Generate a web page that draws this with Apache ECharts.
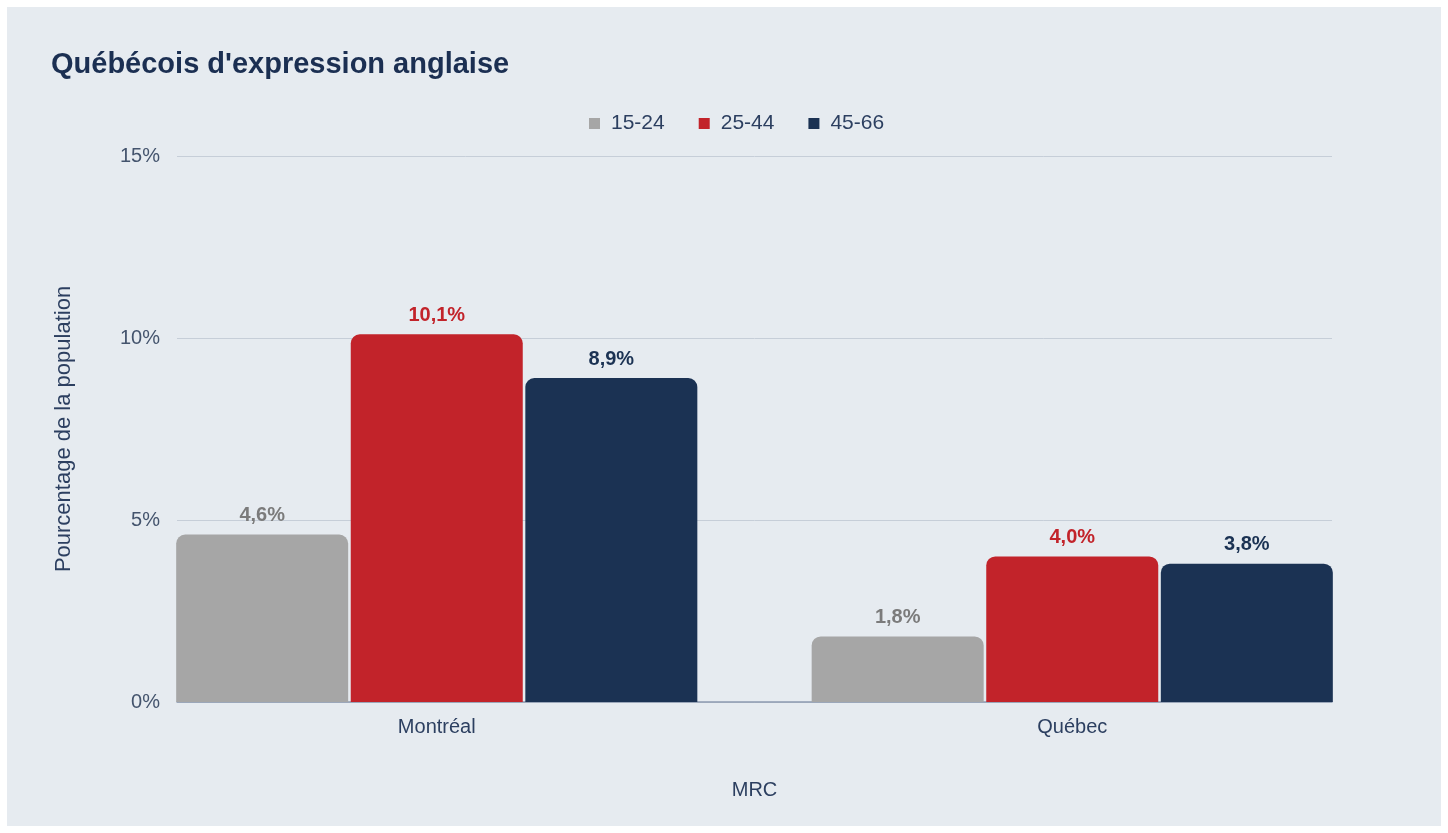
<!DOCTYPE html>
<html>
<head>
<meta charset="utf-8">
<script src="https://cdn.jsdelivr.net/npm/echarts@6/dist/echarts.min.js"></script>
<style>
html,body{margin:0;padding:0;background:#ffffff;}
#wrap{width:1448px;height:833px;box-sizing:border-box;padding:7px;background:#ffffff;}
#chart{width:1434px;height:819px;background:#e6ebf0;}
</style>
</head>
<body>
<div id="wrap"><div id="chart"></div></div>
<script>
const categories = ['Montréal', 'Québec'];
const seriesNames = ['15-24', '25-44', '45-66'];
const values1524 = [4.6, 1.8];
const values2544 = [10.1, 4.0];
const values4566 = [8.9, 3.8];
const yTicks = [0, 5, 10, 15];

const colors = ['#a6a6a6', '#c2232a', '#1b3253'];
const labelColors = ['#7b7b7b', '#c2232a', '#1b3253'];
const font = '"Liberation Sans", Arial, Helvetica, sans-serif';
const allValues = [values1524, values2544, values4566];

const chart = echarts.init(document.getElementById('chart'));
const option = {
  animation: false,
  textStyle: { fontFamily: font },
  title: {
    text: "Québécois d'expression anglaise",
    left: 39, top: 38,
    textStyle: { fontFamily: font, fontSize: 29, fontWeight: 'bold', color: '#1b2f52' }
  },
  legend: {
    data: seriesNames,
    left: 577, top: 101,
    icon: 'rect', itemWidth: 11, itemHeight: 11, itemGap: 34,
    textStyle: { fontFamily: font, fontSize: 21, color: '#2c3f60', padding: [0, 0, 0, 6] }
  },
  grid: [
    { left: 112, right: 51, top: 149, bottom: 124 },
    { left: 170, right: 109, top: 149, bottom: 124 }
  ],
  xAxis: [
    {
      type: 'category', gridIndex: 0, data: categories,
      axisLine: { show: false }, axisTick: { show: false },
      axisLabel: { fontFamily: font, fontSize: 20, color: '#2c3f60', margin: 15 },
      name: 'MRC', nameLocation: 'middle', nameGap: 78,
      nameTextStyle: { fontFamily: font, fontSize: 20, color: '#2c3f60' }
    },
    {
      type: 'value', gridIndex: 1, min: 0, max: 1,
      axisLine: { show: true, onZero: false, lineStyle: { color: '#8d9bb0', width: 1.5 } },
      axisTick: { show: false }, axisLabel: { show: false }, splitLine: { show: false }
    }
  ],
  yAxis: [
    {
      type: 'value', gridIndex: 0, min: 0, max: 15, interval: 5,
      show: false, splitLine: { show: false }
    },
    {
      type: 'value', gridIndex: 1, min: yTicks[0], max: yTicks[yTicks.length - 1], interval: 5,
      axisLine: { show: false }, axisTick: { show: false },
      axisLabel: { fontFamily: font, fontSize: 20, color: '#44546d', margin: 17, formatter: v => v + '%' },
      splitLine: { show: true, lineStyle: { color: '#c6ced8', width: 1 } },
      name: 'Pourcentage de la population', nameLocation: 'middle', nameGap: 102,
      nameTextStyle: { fontFamily: font, fontSize: 22, color: '#2c3f60' }
    }
  ],
  series: seriesNames.map((name, i) => ({
    name: name,
    type: 'bar',
    xAxisIndex: 0, yAxisIndex: 0,
    data: allValues[i],
    barWidth: 172,
    barGap: '1.5%',
    itemStyle: { color: colors[i], borderRadius: [9, 9, 0, 0] },
    label: {
      show: true, position: 'top', distance: 9,
      fontFamily: font, fontSize: 20, fontWeight: 'bold', color: labelColors[i],
      formatter: p => p.value.toFixed(1).replace('.', ',') + '%'
    }
  }))
};
chart.setOption(option);
</script>
</body>
</html>
